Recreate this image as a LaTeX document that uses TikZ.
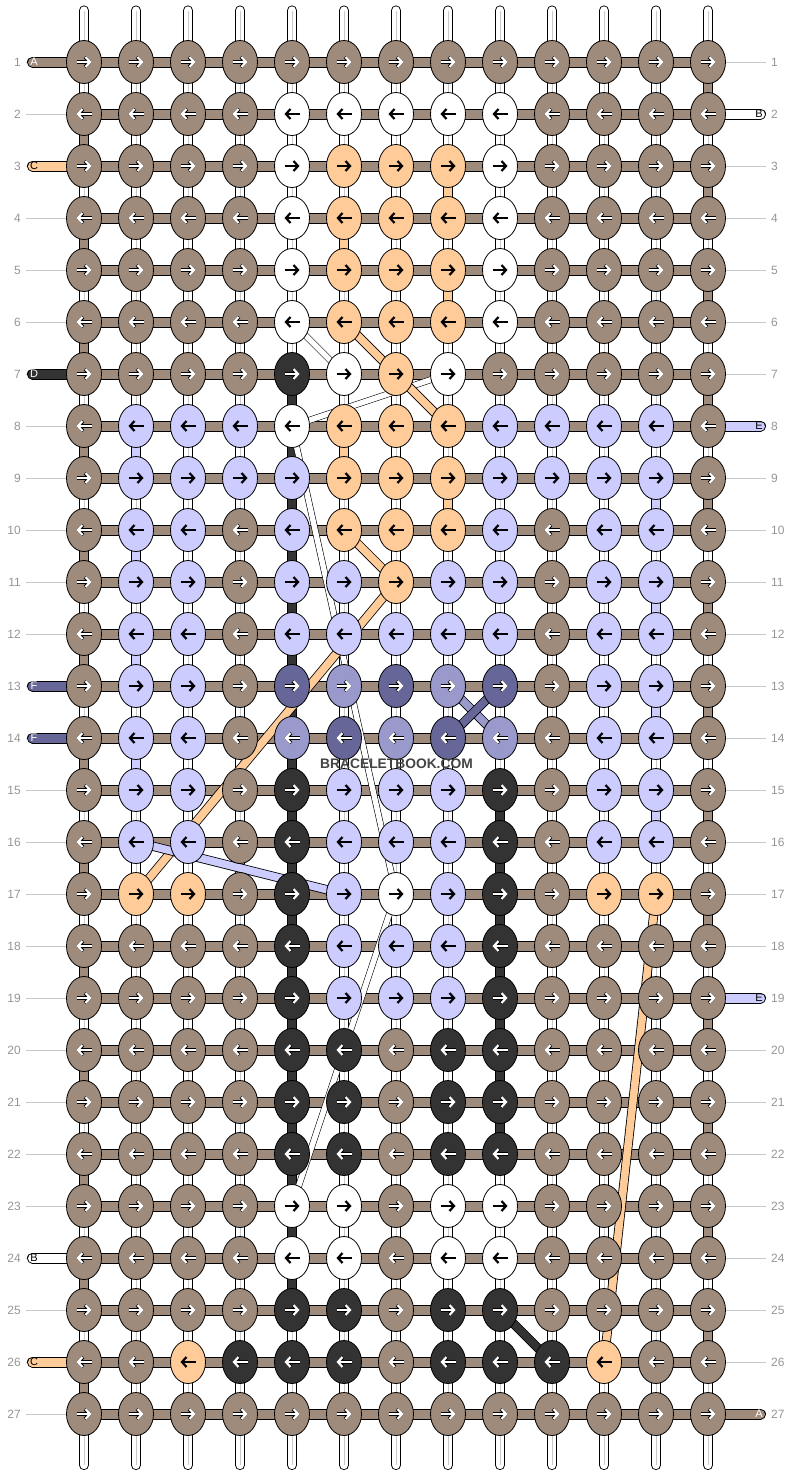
\documentclass[tikz,border=0pt]{standalone}
\usepackage{fontspec}
\setmainfont{Liberation Sans}
\usetikzlibrary{shapes.geometric,arrows.meta}
\pgfdeclarelayer{back}
\pgfdeclarelayer{bg}
\pgfsetlayers{back,bg,main}
\definecolor{cN}{RGB}{158,139,124}
\definecolor{cW}{RGB}{255,255,255}
\definecolor{cO}{RGB}{255,204,153}
\definecolor{cK}{RGB}{51,51,51}
\definecolor{cL}{RGB}{204,204,255}
\definecolor{cM}{RGB}{153,153,204}
\definecolor{cP}{RGB}{102,102,153}
\colorlet{aN}{white}\colorlet{aW}{black}\colorlet{aO}{black}\colorlet{aK}{white}
\colorlet{aL}{black}\colorlet{aM}{white}\colorlet{aP}{white}
\colorlet{oN}{black}\colorlet{oW}{cW}\colorlet{oO}{cO}\colorlet{oK}{black}
\colorlet{oL}{cL}\colorlet{oM}{black}\colorlet{oP}{black}
\definecolor{numgrey}{RGB}{150,150,150}
\definecolor{gridgrey}{RGB}{200,200,200}
\definecolor{wm}{RGB}{68,68,68}
\begin{document}
\begin{tikzpicture}[x=1pt, y=-1pt,
    knot/.style={ellipse, draw, line width=0.8pt, minimum width=35pt, minimum height=43pt, inner sep=0pt},
    arr/.style={line width=2.2pt, -{Straight Barb[length=4.5pt, width=10pt]}},
    warp/.style={line width=0.9pt, double=white, double distance=8.4pt, line cap=round},
    warpline/.style={draw=gridgrey, line width=0.8pt},
    seg/.style={line width=0.9pt, double=#1, double distance=8.4pt},
    bar/.style={line width=1pt, double=cN, double distance=9pt},
    band/.style={line width=0.8pt, double=#1, double distance=7.6pt},
    wband/.style={line width=0.6pt, double=white, double distance=5.4pt},
    stub/.style={line width=1pt, double=#1, double distance=9pt, line cap=round},
    guide/.style={draw=gridgrey, line width=0.8pt},
    num/.style={text=numgrey, font=\fontsize{12}{12}\selectfont, inner sep=0pt},
    tag/.style={text=#1, font=\fontsize{11}{11}\selectfont, inner sep=0pt}]
\useasboundingbox (0,0) rectangle (792,1476);

\foreach \row [count=\r] in {%
{N,N,N,N,N,N,N,N,N,N,N,N,N},%
{N,N,N,N,W,W,W,W,W,N,N,N,N},%
{N,N,N,N,W,O,O,O,W,N,N,N,N},%
{N,N,N,N,W,O,O,O,W,N,N,N,N},%
{N,N,N,N,W,O,O,O,W,N,N,N,N},%
{N,N,N,N,W,O,O,O,W,N,N,N,N},%
{N,N,N,N,K,W,O,W,N,N,N,N,N},%
{N,L,L,L,W,O,O,O,L,L,L,L,N},%
{N,L,L,L,L,O,O,O,L,L,L,L,N},%
{N,L,L,N,L,O,O,O,L,N,L,L,N},%
{N,L,L,N,L,L,O,L,L,N,L,L,N},%
{N,L,L,N,L,L,L,L,L,N,L,L,N},%
{N,L,L,N,P,M,P,M,P,N,L,L,N},%
{N,L,L,N,M,P,M,P,M,N,L,L,N},%
{N,L,L,N,K,L,L,L,K,N,L,L,N},%
{N,L,L,N,K,L,L,L,K,N,L,L,N},%
{N,O,O,N,K,L,W,L,K,N,O,O,N},%
{N,N,N,N,K,L,L,L,K,N,N,N,N},%
{N,N,N,N,K,L,L,L,K,N,N,N,N},%
{N,N,N,N,K,K,N,K,K,N,N,N,N},%
{N,N,N,N,K,K,N,K,K,N,N,N,N},%
{N,N,N,N,K,K,N,K,K,N,N,N,N},%
{N,N,N,N,W,W,N,W,W,N,N,N,N},%
{N,N,N,N,W,W,N,W,W,N,N,N,N},%
{N,N,N,N,K,K,N,K,K,N,N,N,N},%
{N,N,O,K,K,K,N,K,K,K,O,N,N},%
{N,N,N,N,N,N,N,N,N,N,N,N,N}%
}{
    \ifodd\r\relax \def\ta{-7.5}\def\tb{7.5}\else \def\ta{7.5}\def\tb{-7.5}\fi
    \foreach \k [count=\c] in \row {
        \node[knot, fill=c\k] (k\r-\c) at ({32+52*\c},{10+52*\r}) {};
        \draw[arr, line width=3.2pt, draw=o\k] ([xshift=\ta]k\r-\c.center) -- ([xshift=\tb]k\r-\c.center);
        \draw[arr, draw=a\k] ([xshift=\ta]k\r-\c.center) -- ([xshift=\tb]k\r-\c.center);
    }
}

\begin{pgfonlayer}{back}
    \fill[white] (0,0) rectangle (792,1476);
    \foreach \c in {1,...,13}{
        \coordinate (top\c) at ({32+52*\c},10.5);
        \coordinate (bot\c) at ({32+52*\c},1465);
        \draw[warp] (top\c) -- (bot\c);
        \draw[warpline] (top\c) -- (bot\c);
    }
    \foreach \r in {1,...,27}{
        \coordinate (gl\r) at (26,{10+52*\r});
        \coordinate (gr\r) at (766,{10+52*\r});
        \draw[guide] (gl\r) -- (k\r-1.center);
        \draw[guide] (k\r-13.center) -- (gr\r);
        \node[num, anchor=east] (nl\r) at (21,{10+52*\r}) {\r};
        \node[num, anchor=west] (nr\r) at (771,{10+52*\r}) {\r};
    }
\end{pgfonlayer}

\begin{pgfonlayer}{bg}
    \foreach \r in {1,3,...,25}{\pgfmathtruncatemacro\s{\r+1}\draw[seg=cN] (k\r-13.center) -- (k\s-13.center);}
    \foreach \r in {2,4,...,26}{\pgfmathtruncatemacro\s{\r+1}\draw[seg=cN] (k\r-1.center) -- (k\s-1.center);}
    \foreach \r in {7,...,24}{\pgfmathtruncatemacro\s{\r+1}\draw[seg=cK] (k\r-5.center) -- (k\s-5.center);}
    \foreach \r in {15,...,21}{\pgfmathtruncatemacro\s{\r+1}\draw[seg=cK] (k\r-9.center) -- (k\s-9.center);}
    \foreach \c/\r in {8/3,6/4,8/5,6/8,8/9}{\pgfmathtruncatemacro\s{\r+1}\draw[seg=cO] (k\r-\c.center) -- (k\s-\c.center);}
    \foreach \c/\r in {2/8,12/9,2/10,12/11,2/12,12/13,2/14,12/15}{\pgfmathtruncatemacro\s{\r+1}\draw[seg=cL] (k\r-\c.center) -- (k\s-\c.center);}
    \foreach \r in {1,...,27}
        \draw[bar] (k\r-1.center) -- (k\r-13.center);

    \draw[wband] (k6-5.center) -- (k7-6.center);
    \draw[wband] (k7-8.center) -- (k8-5.center);
    \draw[wband] (k8-5.center) -- (k17-7.center);
    \draw[wband] (k17-7.center) -- (k23-5.center);
    \draw[band=cO] (k6-6.center) -- (k7-7.center);
    \draw[band=cO] (k7-7.center) -- (k8-8.center);
    \draw[band=cO] (k10-6.center) -- (k11-7.center);
    \draw[band=cO] (k11-7.center) -- (k17-2.center);
    \draw[band=cO] (k17-12.center) -- (k26-11.center);
    \draw[band=cL] (k16-2.center) -- (k17-6.center);
    \draw[band=cM] (k13-8.center) -- (k14-9.center);
    \draw[band=cP] (k14-8.center) -- (k13-9.center);
    \draw[band=cK] (k25-9.center) -- (k26-10.center);

    \foreach \r/\ltr/\lcol/\tcol in {1/A/cN/white, 3/C/cO/black, 7/D/cK/white, 13/F/cP/white, 14/F/cP/white, 24/B/cW/black, 26/C/cO/black}{
        \coordinate (sl\r) at (32.5,{10+52*\r});
        \draw[stub=\lcol] (sl\r) -- (k\r-1.center);
        \node[tag=\tcol] (tl\r) at (34,{10+52*\r}) {\ltr};
    }
    \foreach \r/\ltr/\lcol/\tcol in {2/B/cW/black, 8/E/cL/black, 19/E/cL/black, 27/A/cN/white}{
        \coordinate (sr\r) at (760.5,{10+52*\r});
        \draw[stub=\lcol] (k\r-13.center) -- (sr\r);
        \node[tag=\tcol] (tr\r) at (759,{10+52*\r}) {\ltr};
    }
\end{pgfonlayer}

\node[font=\bfseries\fontsize{13.8}{14}\selectfont, text=wm, inner sep=0pt] (mark) at (396.5,763.5) {BRACELETBOOK.COM};
\end{tikzpicture}
\end{document}
